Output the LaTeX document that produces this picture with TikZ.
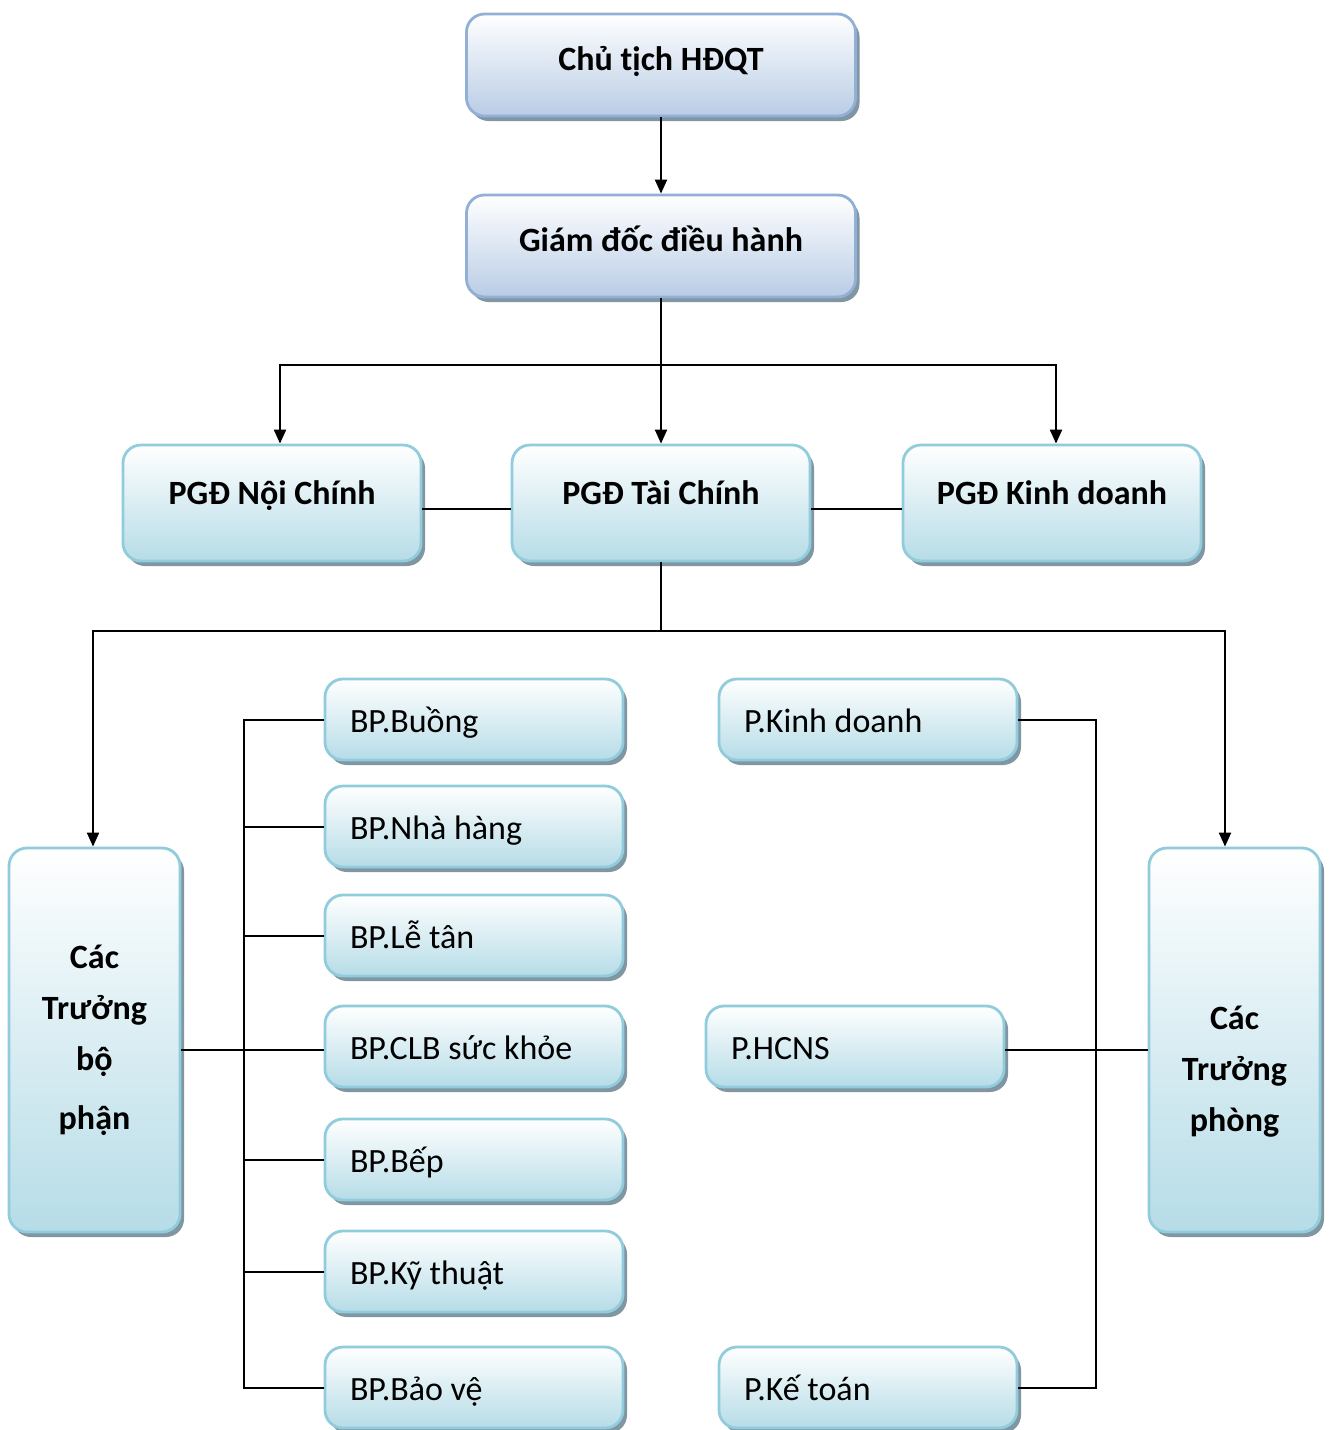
\documentclass[tikz,border=0pt]{standalone}
\usepackage{fontspec}
\setmainfont{Carlito}
\usepackage{tikz}
\usetikzlibrary{arrows.meta,shadows}
\definecolor{bluefill}{RGB}{185,204,229}
\definecolor{blueline}{RGB}{146,176,214}
\definecolor{tealfill}{RGB}{182,220,231}
\definecolor{tealline}{RGB}{145,204,220}
\definecolor{shade}{RGB}{128,150,162}
\newcommand\boxfont{\fontsize{17}{25.5}\selectfont}

\tikzset{
  box/.style={rectangle,rounded corners=9pt,line width=1.4pt,draw=tealline,
    top color=white,bottom color=tealfill,font=\boxfont,
    drop shadow={shadow xshift=2pt,shadow yshift=-2.5pt,fill=shade,opacity=1}},
  topbox/.style={box,draw=blueline,bottom color=bluefill,font=\boxfont\bfseries,
    minimum width=194.5pt,minimum height=51pt,text height=12pt,text depth=7pt},
  pgdbox/.style={box,font=\boxfont\bfseries,minimum width=149pt,minimum height=58pt,
    text height=12pt,text depth=11pt},
  unitbox/.style={box,minimum width=149pt,minimum height=40.5pt,inner xsep=12.5pt,
    text width=124pt,align=flush left,text height=14pt,text depth=1pt},
  tallbox/.style={box,font=\boxfont\bfseries,minimum width=85.5pt,minimum height=192pt,
    align=center},
  link/.style={line width=1pt,black},
  >={Triangle[length=7pt,width=6pt]}
}

\begin{document}
\begin{tikzpicture}[x=0.5pt,y=-0.5pt,font=\boxfont]
  \useasboundingbox (0,0) rectangle (1331,1430);

  % top levels
  \node[topbox] (chu) at (661,65) {Chủ tịch HĐQT};
  \node[topbox] (gd) at (661,246) {Giám đốc điều hành};

  % deputies
  \node[pgdbox] (nc) at (272,503) {PGĐ Nội Chính};
  \node[pgdbox] (tc) at (661,503) {PGĐ Tài Chính};
  \node[pgdbox] (kd) at (1052,503) {PGĐ Kinh doanh};

  % heads
  \node[tallbox] (tbp) at (94.5,1040) {Các\\Trưởng\\bộ\\[4pt]phận};
  \node[tallbox] (tp) at (1234.5,1040) {\strut\\Các\\Trưởng\\phòng};

  % units
  \node[unitbox] (buong) at (474,719.5) {BP.Buồng};
  \node[unitbox] (nhahang) at (474,826.5) {BP.Nhà hàng};
  \node[unitbox] (letan) at (474,935.5) {BP.Lễ tân};
  \node[unitbox] (clb) at (474,1046.5) {BP.CLB sức khỏe};
  \node[unitbox] (bep) at (474,1159.5) {BP.Bếp};
  \node[unitbox] (kythuat) at (474,1271.5) {BP.Kỹ thuật};
  \node[unitbox] (baove) at (474,1387.5) {BP.Bảo vệ};

  \node[unitbox] (pkd) at (868,719.5) {P.Kinh doanh};
  \node[unitbox] (hcns) at (855,1046.5) {P.HCNS};
  \node[unitbox] (pkt) at (868,1387.5) {P.Kế toán};

  % connectors
  \coordinate (splitA) at (661,365);
  \coordinate (splitB) at (661,631);
  \coordinate (bpbus) at (244,0);
  \coordinate (pbus) at (1096,0);

  \draw[link,->] (chu) -- (gd);
  \draw[link,->] (gd) -- (tc);
  \draw[link,->] (splitA) -| ([xshift=4pt]nc.north);
  \draw[link,->] (splitA) -| ([xshift=2pt]kd.north);
  \draw[link] ([yshift=-3pt]nc.east) -- ([yshift=-3pt]tc.west);
  \draw[link] ([yshift=-3pt]tc.east) -- ([yshift=-3pt]kd.west);

  \draw[link] (tc) -- (splitB);
  \draw[link,->] (splitB) -| ([xshift=-0.75pt]tbp.north);
  \draw[link,->] (splitB) -| ([xshift=-4.75pt]tp.north);

  \draw[link] ([yshift=-1.75pt]tbp.east |- clb.west) -- ([yshift=-1.75pt]clb.west);
  \draw[link] (buong.west) -| (bpbus |- baove.west) -- (baove.west);
  \foreach \n in {nhahang,letan,bep,kythuat}
    \draw[link] (\n.west) -- (bpbus |- \n.west);

  \draw[link] (pkd.east) -| (pbus |- pkt.east) -- (pkt.east);
  \draw[link] ([yshift=-1.75pt]hcns.east) -- ([yshift=-1.75pt]tp.west |- hcns.east);
\end{tikzpicture}
\end{document}
